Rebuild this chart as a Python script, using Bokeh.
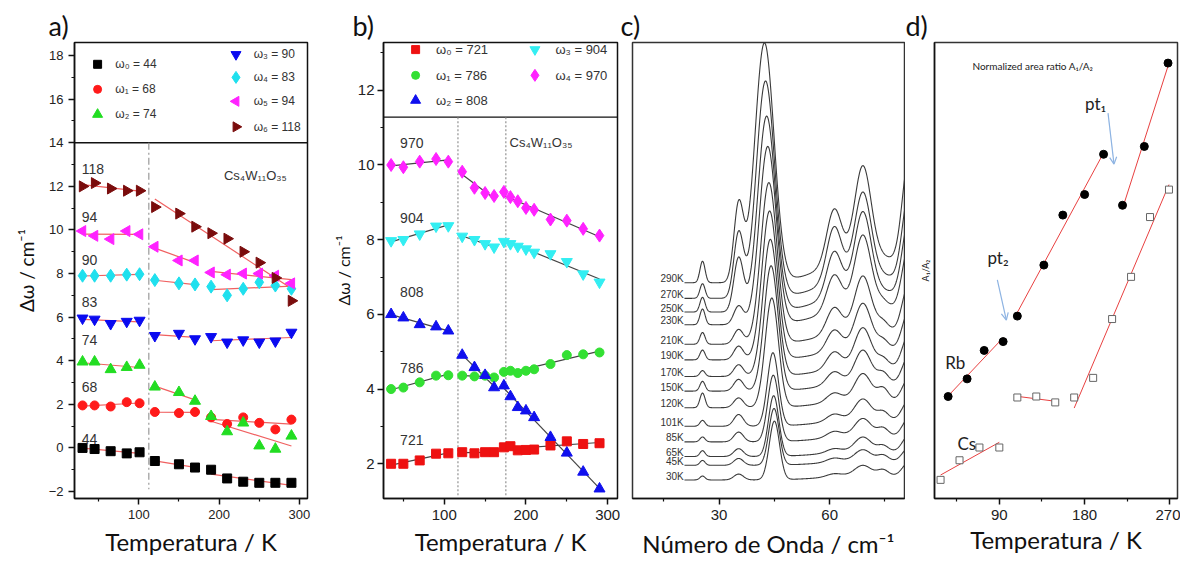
import numpy as np
from bokeh.plotting import figure
from bokeh.layouts import row
from bokeh.models import Range1d, FixedTicker, Arrow, OpenHead, Title
from bokeh.embed import file_html
from bokeh.resources import INLINE
from bokeh.core.properties import value

SANS = "Liberation Sans"
CAL = "Lato"

# ---------------- panel a data ----------------
a_temps = [30, 45, 65, 85, 101, 120, 150, 170, 190, 210, 230, 250, 270, 290]
a_w0 = [0.0, -0.05, -0.15, -0.25, -0.2, -0.6, -0.75, -0.9, -1.0, -1.4, -1.55, -1.6, -1.6, -1.6]
a_w1 = [1.95, 1.95, 1.9, 2.1, 2.05, 1.65, 1.6, 1.65, 1.4, 1.1, 1.4, 1.15, 0.85, 1.3]
a_w2 = [3.95, 3.95, 3.6, 3.7, 3.8, 2.8, 2.55, 2.15, 1.45, 0.75, 1.15, 0.1, -0.05, 0.55]
a_w3 = [5.95, 5.9, 5.7, 5.8, 5.85, 5.15, 5.25, 5.0, 5.1, 4.85, 4.95, 4.85, 4.9, 5.3]
a_w4 = [7.9, 7.9, 7.9, 7.95, 7.97, 7.7, 7.55, 7.5, 7.4, 7.0, 7.3, 7.6, 7.45, 7.3]
a_w5 = [9.95, 9.73, 9.58, 9.95, 9.8, 9.23, 8.6, 8.6, 8.05, 7.95, 8.0, 8.0, 7.9, 7.55]
a_w6 = [12.0, 12.15, 11.9, 11.8, 11.8, 11.05, 10.75, 10.15, 9.85, 9.6, 9.0, 8.5, 7.8, 6.75]
a_legend = ["ω₀ = 44", "ω₁ = 68", "ω₂ = 74", "ω₃ = 90", "ω₄ = 83", "ω₅ = 94", "ω₆ = 118"]
a_tags = ["118", "94", "90", "83", "74", "68", "44"]

# ---------------- panel b data ----------------
b_temps = [35, 50, 70, 90, 105, 122, 137, 150, 161, 173, 181, 190, 200, 210, 230, 250, 270, 290]
b_w0 = [2.0, 2.0, 2.09, 2.27, 2.28, 2.31, 2.28, 2.31, 2.31, 2.44, 2.47, 2.36, 2.37, 2.38, 2.49, 2.6, 2.53, 2.55]
b_w1 = [4.0, 4.04, 4.18, 4.36, 4.37, 4.36, 4.34, 4.36, 4.31, 4.46, 4.49, 4.43, 4.49, 4.53, 4.67, 4.91, 4.93, 4.98]
b_w2 = [6.0, 5.91, 5.73, 5.67, 5.56, 4.91, 4.58, 4.37, 4.04, 4.09, 3.8, 3.51, 3.42, 3.24, 2.71, 2.29, 1.78, 1.33]
b_w3 = [7.97, 8.0, 8.15, 8.36, 8.37, 8.09, 8.0, 7.89, 7.8, 7.95, 7.89, 7.82, 7.75, 7.66, 7.62, 7.41, 7.08, 6.86]
b_w4 = [10.0, 9.94, 10.09, 10.16, 10.09, 9.82, 9.39, 9.25, 9.17, 9.28, 9.14, 9.03, 8.85, 8.8, 8.54, 8.51, 8.29, 8.11]
b_legend = ["ω₀ = 721", "ω₁ = 786", "ω₂ = 808", "ω₃ = 904", "ω₄ = 970"]
b_tags = ["970", "904", "808", "786", "721"]

# ---------------- panel c data (peak parameters read per spectrum) ----------------
c_labels = ["290K", "270K", "250K", "230K", "210K", "190K", "170K", "150K", "120K", "101K", "85K", "65K", "45K", "30K"]
c_offset = [221, 205, 191, 178, 158, 142, 125, 110, 93, 74, 58, 43, 34, 19]
c_main_pos = [42.3, 42.6, 42.9, 43.2, 43.5, 43.7, 43.9, 44.1, 44.3, 44.6, 44.7, 44.8, 44.9, 45.0]
c_main_amp = [245, 222, 200, 182, 165, 152, 140, 128, 112, 75, 68, 62, 58, 60]
c_main_wid = [2.6, 2.5, 2.4, 2.3, 2.2, 2.1, 2.0, 1.9, 1.8, 1.5, 1.5, 1.4, 1.4, 1.4]
c_peak_pos = [25.5, 35.3, 61.2, 69.0, 74.5, 81.5, 70.0]
c_peak_wid = [0.7, 1.3, 2.0, 2.2, 1.5, 1.8, 10.0]
c_p25 = [22, 15, 15, 16, 12, 10, 6, 10, 15, 6, 5, 6, 5, 4]
c_p35 = [78, 66, 55, 19, 15, 14, 12, 12, 10, 12, 10, 8, 7, 6]
c_p61 = [55, 55, 45, 36, 26, 21, 17, 13, 9, 7, 6, 4, 4, 3]
c_p69 = [90, 82, 78, 70, 53, 44, 38, 32, 26, 20, 17, 14, 11, 10]
c_p74 = [0, 0, 0, 5, 8, 8, 8, 10, 12, 8, 8, 6, 6, 6]
c_p81 = [110, 92, 80, 68, 52, 42, 36, 30, 25, 22, 20, 18, 15, 15]
c_ped = [30, 27, 25, 22, 17, 14, 12, 10, 9, 8, 7, 6, 5, 5]

# ---------------- panel d data ----------------
d_rb_T = [36, 56, 74, 94, 109, 137, 157, 180, 200, 220, 243, 268]
d_rb_y = [1.04, 1.22, 1.51, 1.60, 1.86, 2.38, 2.89, 3.10, 3.51, 2.99, 3.59, 4.44]
d_cs_T = [28, 48, 69, 90, 109, 129, 149, 169, 189, 209, 229, 249, 269]
d_cs_y = [0.19, 0.39, 0.52, 0.52, 1.03, 1.04, 0.98, 1.03, 1.23, 1.83, 2.26, 2.87, 3.15]


def base_fig(width, height, xr, yr, bl, br, bt, bb):
    p = figure(width=width, height=height, x_range=Range1d(*xr), y_range=Range1d(*yr),
               output_backend="svg", toolbar_location=None, title=None,
               min_border_left=bl, min_border_right=br, min_border_top=bt, min_border_bottom=bb)
    p.xgrid.visible = False
    p.ygrid.visible = False
    p.outline_line_color = "#111111"
    p.outline_line_width = 1.5
    p.background_fill_color = "white"
    p.border_fill_color = "white"
    for ax in p.axis:
        ax.axis_line_width = 1.5
        ax.axis_line_color = "#111111"
        ax.major_tick_line_width = 1.5
        ax.major_tick_line_color = "#111111"
        ax.minor_tick_line_color = "#111111"
        ax.major_tick_in = 0
        ax.major_tick_out = 6
        ax.minor_tick_in = 0
        ax.minor_tick_out = 3
        ax.minor_tick_line_width = 1.2
        ax.major_label_text_font = SANS
        ax.major_label_text_color = "#222222"
        ax.axis_label_text_font = CAL
        ax.axis_label_text_font_style = "normal"
        ax.axis_label_text_color = "#111111"
    return p


def panel_tag(p, s, off):
    p.add_layout(Title(text=s, align="left", offset=off, standoff=1, text_font=CAL,
                       text_font_size="27px", text_font_style="normal", text_color="#111111"), "above")


def fit_lines(p, T, Y, segs, color, width=1.2):
    for i0, i1 in segs:
        t = np.array(T[i0:i1], float)
        y = np.array(Y[i0:i1], float)
        k, b = np.polyfit(t, y, 1)
        p.line([t[0], t[-1]], [k * t[0] + b, k * t[-1] + b], line_color=color, line_width=width)


def txt(p, x, y, s, size, color="#333333", align="left", font=SANS, baseline="middle"):
    p.text(x=[x], y=[y], text=[s], text_font=value(font), text_font_size=size,
           text_color=color, text_align=align, text_baseline=baseline)


H = 560

# ======================= panel a =======================
pa = base_fig(330, H, (20, 310), (-2.32, 18.6), 74, 23, 42, 60)
pa.xaxis.ticker = FixedTicker(ticks=[100, 200, 300], minor_ticks=[50, 150, 250])
pa.yaxis.ticker = FixedTicker(ticks=list(range(-2, 19, 2)), minor_ticks=list(range(-1, 19, 2)))
pa.xaxis.axis_label = "Temperatura / K"
pa.yaxis.axis_label = "Δω / cm⁻¹"
pa.xaxis.major_label_text_font_size = "13px"
pa.yaxis.major_label_text_font_size = "13px"
pa.xaxis.axis_label_text_font_size = "24px"
pa.yaxis.axis_label_text_font_size = "19px"
pa.xaxis.axis_label_standoff = 5
pa.yaxis.axis_label_standoff = 8

pa.line([20, 310], [14, 14], line_color="#111111", line_width=1.5)
pa.line([112.5, 112.5], [14, -1.9], line_color="#999999", line_width=1.2, line_dash="7 3 2 3")

a_series = [a_w0, a_w1, a_w2, a_w3, a_w4, a_w5, a_w6]
a_marks = [("square", 0, 9), ("circle", 0, 9), ("triangle", 0, 11), ("inverted_triangle", 0, 11),
           ("diamond", 0, 13), ("triangle", np.pi / 2, 11), ("triangle", -np.pi / 2, 11)]
a_cols = ["#000000", "#ff1a1a", "#22dd22", "#0a0af0", "#1fe0ee", "#ff22ff", "#7a0c0c"]
fa = "#f06060"
for k, ys in enumerate(a_series):
    segs = [(0, 5), (5, 14)] if k == 6 else [(0, 5), (5, 8), (8, 14)]
    fit_lines(pa, a_temps, ys, segs, fa, 1.2)
for k, ys in enumerate(a_series):
    m, ang, sz = a_marks[k]
    pa.scatter(a_temps, ys, marker=m, angle=ang, size=sz, fill_color=a_cols[k], line_color=a_cols[k])

leg_pos = [(48.75, 17.6), (48.75, 16.45), (48.75, 15.3), (221, 18.05), (221, 17.0), (221, 15.9), (221, 14.73)]
for k, (lx, ly) in enumerate(leg_pos):
    m, ang, sz = a_marks[k]
    pa.scatter([lx], [ly], marker=m, angle=ang, size=sz - 1, fill_color=a_cols[k], line_color=a_cols[k])
    txt(pa, lx + 22, ly, a_legend[k], "12px", "#333333")
for s, yy in zip(a_tags, [12.8, 10.6, 8.6, 6.7, 4.95, 2.8, 0.4]):
    txt(pa, 29, yy, s, "14px", "#333333")
txt(pa, 206, 12.5, "Cs₄W₁₁O₃₅", "13px", "#333333")
panel_tag(pa, "a)", -26)

# ======================= panel b =======================
pb = base_fig(290, H, (25.7, 312), (1.07, 13.28), 48, 3, 42, 60)
pb.xaxis.ticker = FixedTicker(ticks=[100, 200, 300], minor_ticks=[50, 150, 250])
pb.yaxis.ticker = FixedTicker(ticks=[2, 4, 6, 8, 10, 12], minor_ticks=[3, 5, 7, 9, 11, 13])
pb.xaxis.axis_label = "Temperatura / K"
pb.yaxis.axis_label = "Δω / cm⁻¹"
pb.xaxis.major_label_text_font_size = "15px"
pb.yaxis.major_label_text_font_size = "15px"
pb.xaxis.axis_label_text_font_size = "24px"
pb.yaxis.axis_label_text_font_size = "16px"
pb.xaxis.axis_label_standoff = 4
pb.yaxis.axis_label_standoff = 2
pb.yaxis.major_label_standoff = 3

pb.line([25.7, 312], [11.28, 11.28], line_color="#111111", line_width=1.2)
for xv in [116.8, 175.4]:
    pb.line([xv, xv], [11.28, 1.12], line_color="#888888", line_width=1.1, line_dash="2 2")

b_series = [b_w0, b_w1, b_w2, b_w3, b_w4]
b_marks = [("square", 9), ("circle", 9), ("triangle", 11), ("inverted_triangle", 11), ("diamond", 13)]
b_cols = ["#ee1111", "#33e033", "#1010ee", "#33eef2", "#ff22ff"]
for ys in b_series:
    fit_lines(pb, b_temps, ys, [(0, 5), (5, 9), (9, 18)], "#444444", 1.2)
for k, ys in enumerate(b_series):
    m, sz = b_marks[k]
    pb.scatter(b_temps, ys, marker=m, size=sz, fill_color=b_cols[k], line_color=b_cols[k])
legb = [(65, 13.09), (65, 12.4), (65, 11.73), (211, 13.09), (211, 12.4)]
for k, (lx, ly) in enumerate(legb):
    m, sz = b_marks[k]
    pb.scatter([lx], [ly], marker=m, size=sz - 1, fill_color=b_cols[k], line_color=b_cols[k])
    txt(pb, lx + 25, ly, b_legend[k], "13px", "#333333")
for s, yy in zip(b_tags, [10.59, 8.59, 6.59, 4.56, 2.64]):
    txt(pb, 46, yy, s, "14px", "#333333")
txt(pb, 180, 10.6, "Cs₄W₁₁O₃₅", "13px", "#333333")
panel_tag(pb, "b)", -31)

# ======================= panel c =======================
pc = base_fig(285, H, (6.5, 80.3), (0, 467), 12, 1, 38, 55)
pc.xaxis.ticker = FixedTicker(ticks=[30, 60], minor_ticks=[15, 45, 75])
pc.yaxis.visible = False
pc.outline_line_color = "#333333"
pc.xaxis.axis_label = "Número de Onda / cm⁻¹"
pc.xaxis.major_label_text_font_size = "15px"
pc.xaxis.axis_label_text_font_size = "24px"
pc.xaxis.axis_label_standoff = 6


def gauss(x, c, a, s):
    return a * np.exp(-(x - c) ** 2 / (2.0 * s * s))


xs = np.linspace(20.6, 80.3, 700)
for i in range(len(c_labels)):
    amps = [c_p25[i], c_p35[i], c_p61[i], c_p69[i], c_p74[i], c_p81[i], c_ped[i]]
    y = c_offset[i] + gauss(xs, c_main_pos[i], c_main_amp[i], c_main_wid[i])
    for c0, w0, a0 in zip(c_peak_pos, c_peak_wid, amps):
        y = y + gauss(xs, c0, a0, w0)
    pc.line(xs, y, line_color="#3a3a3a", line_width=1.1)
    txt(pc, 20.4, c_offset[i] + 4, c_labels[i], "10px", "#333333", align="right")
panel_tag(pc, "c)", -12)

# ======================= panel d =======================
pd_ = base_fig(275, H, (21.6, 278), (0, 4.65), 29, 3, 36, 59)
pd_.xaxis.ticker = FixedTicker(ticks=[90, 180, 270], minor_ticks=[45, 135, 225])
pd_.yaxis.ticker = FixedTicker(ticks=[], minor_ticks=[])
pd_.yaxis.major_label_text_font_size = "0px"
pd_.yaxis.axis_label = "A₁/A₂"
pd_.yaxis.axis_label_text_font_size = "9px"
pd_.yaxis.axis_label_standoff = 4
pd_.outline_line_color = "#333333"
pd_.xaxis.axis_label = "Temperatura / K"
pd_.xaxis.major_label_text_font_size = "15px"
pd_.xaxis.axis_label_text_font_size = "24px"
pd_.xaxis.axis_label_standoff = 2

fit_lines(pd_, d_rb_T, d_rb_y, [(0, 4), (4, 9), (9, 12)], "#e84040", 1.0)
fit_lines(pd_, d_cs_T, d_cs_y, [(0, 4), (4, 7), (7, 13)], "#e84040", 1.0)
pd_.scatter(d_rb_T, d_rb_y, marker="circle", size=8, fill_color="#000000", line_color="#000000")
pd_.scatter(d_cs_T, d_cs_y, marker="square", size=7, fill_color="white", line_color="#666666", line_width=1)
txt(pd_, 61.6, 4.41, "Normalized area ratio A₁/A₂", "10px", "#222222", font=CAL)
txt(pd_, 180.5, 4.03, "pt₁", "17px", "#222222", font=CAL)
txt(pd_, 77.4, 2.46, "pt₂", "17px", "#222222", font=CAL)
txt(pd_, 33, 1.39, "Rb", "17px", "#222222", font=CAL)
txt(pd_, 45.8, 0.56, "Cs", "17px", "#222222", font=CAL)
pd_.add_layout(Arrow(end=OpenHead(size=7, line_color="#8db3e2", line_width=1.2),
                     x_start=204.7, y_start=3.93, x_end=211, y_end=3.41,
                     line_color="#8db3e2", line_width=1.2))
pd_.add_layout(Arrow(end=OpenHead(size=7, line_color="#8db3e2", line_width=1.2),
                     x_start=87.9, y_start=2.23, x_end=97.4, y_end=1.82,
                     line_color="#8db3e2", line_width=1.2))
panel_tag(pd_, "d)", -29)

layout = row(pa, pb, pc, pd_)
open("out.html", "w").write(file_html(layout, INLINE))
